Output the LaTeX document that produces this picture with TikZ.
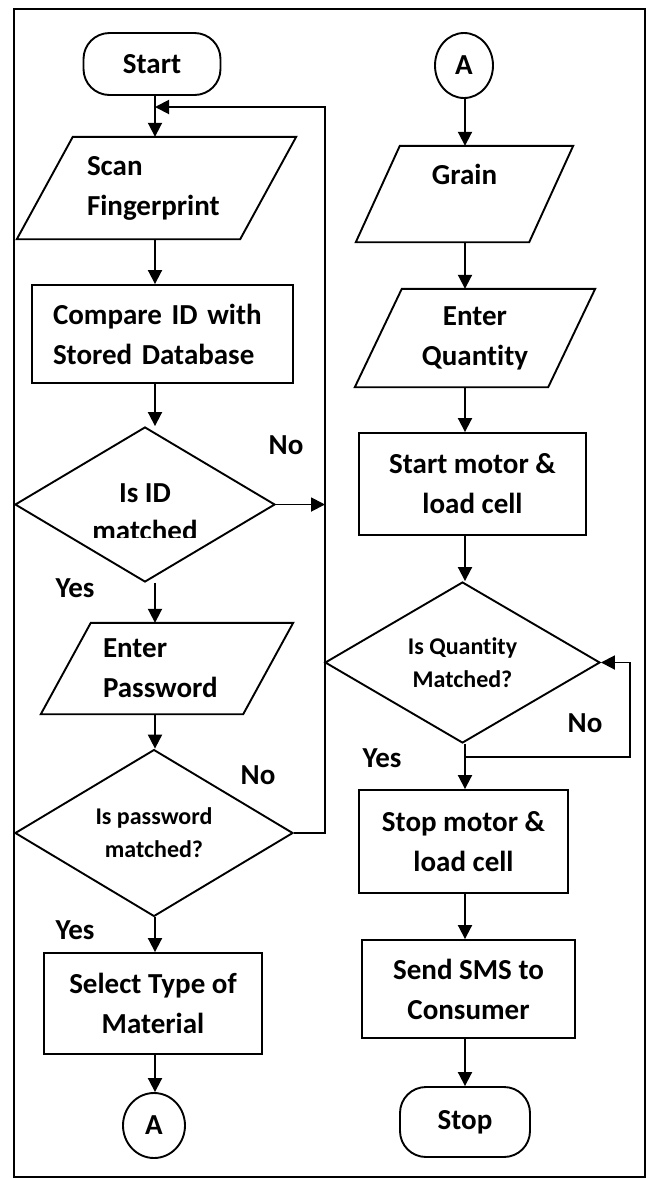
\documentclass[tikz,border=0pt]{standalone}
\usepackage{fontspec}
\setmainfont{Carlito}[Ligatures=CommonOff]
\usetikzlibrary{arrows.meta,shapes.geometric,calc}
\newcommand\bigf{\fontsize{29}{40}\selectfont\bfseries}
\newcommand\smallf{\fontsize{24}{33}\selectfont\bfseries}
\newcommand\drawpara[2]{\draw[ln] ($(#1.north west)+(#2,0)$) -- (#1.north east) -- ($(#1.south east)+(-#2,0)$) -- (#1.south west) -- cycle;}
\tikzset{
  ln/.style={line width=1.9pt},
  procbox/.style={draw, ln, rectangle, align=center, font=\bigf, inner sep=0pt},
  termbox/.style={procbox, rounded corners=26pt},
  connbox/.style={draw, ln, ellipse, font=\bigf, inner sep=0pt},
  iobox/.style={rectangle, font=\bigf, inner sep=0pt},
  decbox/.style={draw, ln, diamond, align=center, font=\smallf, inner sep=0pt},
  lbl/.style={font=\bigf, inner sep=0pt},
  arr/.style={ln, -{Triangle[length=14pt,width=14pt]}},
}
\begin{document}
\begin{tikzpicture}[x=1pt,y=-1pt]
\useasboundingbox (0,0) rectangle (652,1179);
\fill[white] (0,0) rectangle (652,1179);
\draw[ln] (14,9) rectangle (645,1177);

\coordinate (L) at (155,0);
\coordinate (R) at (465,0);
\coordinate (loopx) at (325,0);
\coordinate (qloopx) at (630,0);
\coordinate (join) at (155,107);

% left column
\node[termbox, minimum width=137, minimum height=62] (start) at (152,64) {Start};
\node[iobox, minimum width=279, minimum height=102, text width=139, align=left] (scan) at (156.5,188) {Scan\\Fingerprint};
\drawpara{scan}{56}
\node[procbox, minimum width=261, minimum height=98, text width=219, align=left] (compare) at (162.5,334) {Compare ID with\\Stored Database};
\node[decbox, minimum width=260, minimum height=155] (id) at (145,504.5) {};
\begin{scope}
  \clip (0,420) rectangle (652,537);
  \node[lbl, align=center, font=\fontsize{29}{38}\selectfont\bfseries] (idtext) at (145,512) {Is ID\\matched};
\end{scope}
\node[iobox, minimum width=252, minimum height=91, text width=128, align=left] (pass) at (167,668.5) {Enter\\Password};
\drawpara{pass}{50}
\node[decbox, minimum width=278, minimum height=160] (pw) at (154,833) {Is password\\matched?};
\node[procbox, minimum width=218, minimum height=101] (sel) at (153,1003.5) {Select Type of\\Material};
\node[connbox, minimum width=62, minimum height=65] (a2) at (154,1125.5) {A};

% right column
\node[connbox, minimum width=58, minimum height=65] (a1) at (464,65.5) {A};
\node[iobox, minimum width=217, minimum height=96, align=center] (grain) at (464.5,194) {Grain\\~};
\drawpara{grain}{44}
\node[iobox, minimum width=240, minimum height=98, align=center] (qty) at (475,338) {Enter\\Quantity};
\drawpara{qty}{47}
\node[procbox, minimum width=227, minimum height=102] (motor) at (472.5,484) {Start motor \&\\load cell};
\node[decbox, minimum width=275, minimum height=161] (qm) at (462.5,662.5) {Is Quantity\\Matched?};
\node[procbox, minimum width=209, minimum height=103] (stopm) at (463.5,841.5) {Stop motor \&\\load cell};
\node[procbox, minimum width=213, minimum height=98] (sms) at (468.5,989) {Send SMS to\\Consumer};
\node[termbox, minimum width=130, minimum height=70] (stop) at (465,1122) {Stop};
\coordinate (qbr) at (465,757);

% labels
\node[lbl] (no1) at (286,445) {No};
\node[lbl] (yes1) at (75,588) {Yes};
\node[lbl] (no2) at (258,775) {No};
\node[lbl] (yes2) at (75,930) {Yes};
\node[lbl] (no3) at (585,723) {No};
\node[lbl] (yes3) at (382,758) {Yes};

% left connectors
\draw[arr] (L |- start.south) -- (L |- scan.north);
\draw[arr] (L |- scan.south) -- (L |- compare.north);
\draw[arr] (L |- compare.south) -- (L |- id.north);
\draw[arr] (id.east) -- (id.east -| loopx);
\draw[arr] (L |- id.south) -- (L |- pass.north);
\draw[arr] (L |- pass.south) -- (L |- pw.north);
\draw[arr] (pw.east) -- (pw.east -| loopx) -- (loopx |- join) -- (join);
\draw[arr] (L |- pw.south) -- (L |- sel.north);
\draw[arr] (L |- sel.south) -- (L |- a2.north);

% right connectors
\draw[arr] (R |- a1.south) -- (R |- grain.north);
\draw[arr] (R |- grain.south) -- (R |- qty.north);
\draw[arr] (R |- qty.south) -- (R |- motor.north);
\draw[arr] (R |- motor.south) -- (R |- qm.north);
\draw[arr] (R |- qm.south) -- (R |- stopm.north);
\draw[arr] (qbr) -- (qbr -| qloopx) -- (qloopx |- qm.east) -- (qm.east);
\draw[arr] (R |- stopm.south) -- (R |- sms.north);
\draw[arr] (R |- sms.south) -- (R |- stop.north);
\end{tikzpicture}
\end{document}
